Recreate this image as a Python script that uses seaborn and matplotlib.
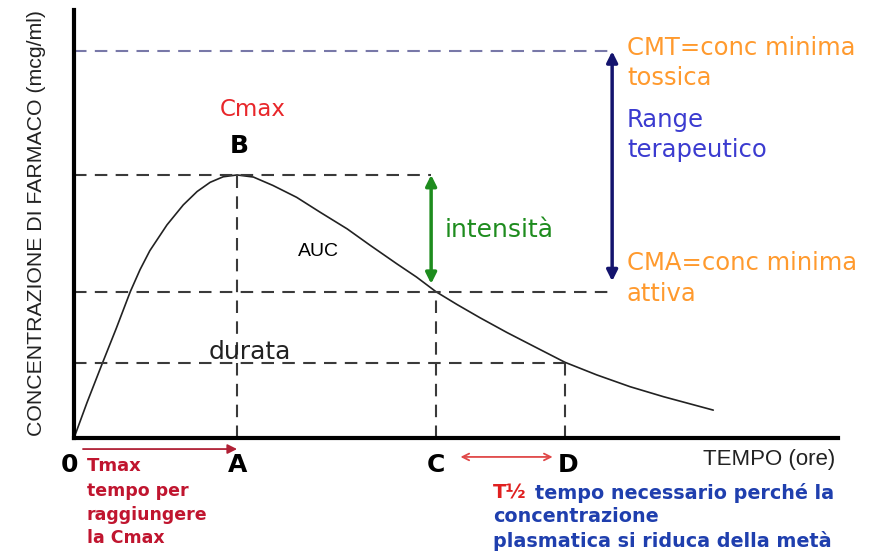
import numpy as np
import pandas as pd
import seaborn as sns
import matplotlib.pyplot as plt

# Concentration-time curve (time in hours, conc in arbitrary units)
tempo = [0, 0.16, 0.34, 0.52, 0.69, 0.81, 0.93, 1.14, 1.34, 1.51, 1.67, 1.83, 2.0,
         2.20, 2.44, 2.73, 3.02, 3.35, 3.63, 3.96, 4.20, 4.44, 4.70, 4.98, 5.31,
         5.68, 6.02, 6.41, 6.82, 7.23, 7.84]
conc = [0, 1.35, 2.78, 4.18, 5.56, 6.40, 7.12, 8.10, 8.86, 9.37, 9.72, 9.93, 10.0,
        9.92, 9.60, 9.15, 8.58, 7.95, 7.33, 6.62, 6.12, 5.56, 5.07, 4.57, 4.01,
        3.42, 2.88, 2.40, 1.95, 1.57, 1.06]

# Key points
t_A, t_C, t_D = 2.0, 4.44, 6.02
c_max, c_ma, c_half, c_mt = 10.0, 5.56, 2.85, 14.7
t_range = 6.6

df = pd.DataFrame({'tempo': tempo, 'conc': conc})

sns.set_style('white')
plt.rcParams['font.family'] = ['DejaVu Sans']

fig = plt.figure(figsize=(8.74, 5.54), dpi=100)
ax = fig.add_axes([74 / 874, 116 / 554, 764 / 874, 428 / 554])

sns.lineplot(x='tempo', y='conc', data=df, color='#222222', linewidth=1.2, ax=ax)

dash = (0, (6, 4))
grey = '#3a3a3a'
# horizontal reference lines
ax.plot([0, t_range], [c_mt, c_mt], color='#7878a8', lw=1.5, linestyle=dash)
ax.plot([0, t_C - 0.06], [c_max, c_max], color=grey, lw=1.5, linestyle=dash)
ax.plot([0, t_range], [c_ma, c_ma], color=grey, lw=1.5, linestyle=dash)
ax.plot([0, t_D], [c_half, c_half], color=grey, lw=1.5, linestyle=dash)
# vertical reference lines
ax.plot([t_A, t_A], [0, c_max], color=grey, lw=1.5, linestyle=dash)
ax.plot([t_C, t_C], [0, c_ma], color=grey, lw=1.5, linestyle=dash)
ax.plot([t_D, t_D], [0, c_half], color=grey, lw=1.5, linestyle=dash)

# arrows
ax.annotate('', xy=(t_C - 0.06, c_max), xytext=(t_C - 0.06, c_ma + 0.3),
            arrowprops=dict(arrowstyle='<|-|>', color='#1e8c1e', lw=2.5,
                            mutation_scale=16, shrinkA=0, shrinkB=0))
ax.annotate('', xy=(t_range, c_mt), xytext=(t_range, c_ma + 0.4),
            arrowprops=dict(arrowstyle='<|-|>', color='#14146e', lw=2.5,
                            mutation_scale=16, shrinkA=0, shrinkB=0))
ax.annotate('', xy=(t_A, -0.42), xytext=(0.11, -0.42), annotation_clip=False,
            arrowprops=dict(arrowstyle='-|>', color='#b02035', lw=1.3,
                            mutation_scale=14, shrinkA=0, shrinkB=0))
ax.annotate('', xy=(t_C + 0.3, -0.72), xytext=(t_D - 0.15, -0.72), annotation_clip=False,
            arrowprops=dict(arrowstyle='<->', color='#e04848', lw=1.3,
                            mutation_scale=12, shrinkA=0, shrinkB=0))

ax.set_xlim(0, 9.37)
ax.set_ylim(0, 16.27)
ax.set_xticks([])
ax.set_yticks([])
ax.set_xlabel('')
ax.set_ylabel('')
sns.despine(ax=ax)
ax.spines['left'].set_linewidth(3)
ax.spines['bottom'].set_linewidth(3)
ax.spines['left'].set_color('black')
ax.spines['bottom'].set_color('black')


def fx(px):
    return px / 874


def fy(py):
    return 1 - py / 554


arial = 'Liberation Sans'
orange = '#ff9a2e'
blue = '#3b3bd0'
dred = '#c0152f'
nblue = '#1f3fae'

fig.text(fx(37), fy(223), 'CONCENTRAZIONE DI FARMACO (mcg/ml)', rotation=90,
         ha='center', va='center', fontsize=15.3, family=arial, color='#222222')
fig.text(fx(253), fy(110), 'Cmax', color='#e8262a', fontsize=16.5, ha='center', va='center')
fig.text(fx(239), fy(146), 'B', color='black', fontsize=18, fontweight='bold', ha='center', va='center')
fig.text(fx(318), fy(251), 'AUC', color='black', fontsize=14, family=arial, ha='center', va='center')
fig.text(fx(445), fy(230), 'intensità', color='#1e8c1e', fontsize=18, ha='left', va='center')
fig.text(fx(250), fy(352), 'durata', color='#222222', fontsize=18, ha='center', va='center')

fig.text(fx(627), fy(48), 'CMT=conc minima', color=orange, fontsize=17.5, ha='left', va='center')
fig.text(fx(627), fy(78), 'tossica', color=orange, fontsize=17.5, ha='left', va='center')
fig.text(fx(627), fy(120), 'Range', color=blue, fontsize=17.5, ha='left', va='center')
fig.text(fx(627), fy(150), 'terapeutico', color=blue, fontsize=17.5, ha='left', va='center')
fig.text(fx(627), fy(263), 'CMA=conc minima', color=orange, fontsize=17.5, ha='left', va='center')
fig.text(fx(627), fy(294), 'attiva', color=orange, fontsize=17.5, ha='left', va='center')

for lab, px in [('0', 70), ('A', 238), ('C', 436), ('D', 568)]:
    fig.text(fx(px), fy(465), lab, color='black', fontsize=18, fontweight='bold',
             ha='center', va='center')

fig.text(fx(87), fy(466), 'Tmax', color=dred, fontsize=13, fontweight='bold', ha='left', va='center')
fig.text(fx(87), fy(491), 'tempo per', color=dred, fontsize=12.5, fontweight='bold', ha='left', va='center')
fig.text(fx(87), fy(515), 'raggiungere', color=dred, fontsize=12.5, fontweight='bold', ha='left', va='center')
fig.text(fx(87), fy(538), 'la Cmax', color=dred, fontsize=12.5, fontweight='bold', ha='left', va='center')

fig.text(fx(835), fy(460), 'TEMPO (ore)', color='#222222', fontsize=16, family=arial,
         ha='right', va='center')

fig.text(fx(493), fy(493), 'T½', color='#e02020', fontsize=14, fontweight='bold', ha='left', va='center')
fig.text(fx(535), fy(493), 'tempo necessario perché la', color=nblue, fontsize=13.8,
         fontweight='bold', ha='left', va='center')
fig.text(fx(493), fy(517), 'concentrazione', color=nblue, fontsize=13.8, fontweight='bold',
         ha='left', va='center')
fig.text(fx(493), fy(541), 'plasmatica si riduca della metà', color=nblue, fontsize=13.8,
         fontweight='bold', ha='left', va='center')

fig.savefig('out.png', dpi=100)
